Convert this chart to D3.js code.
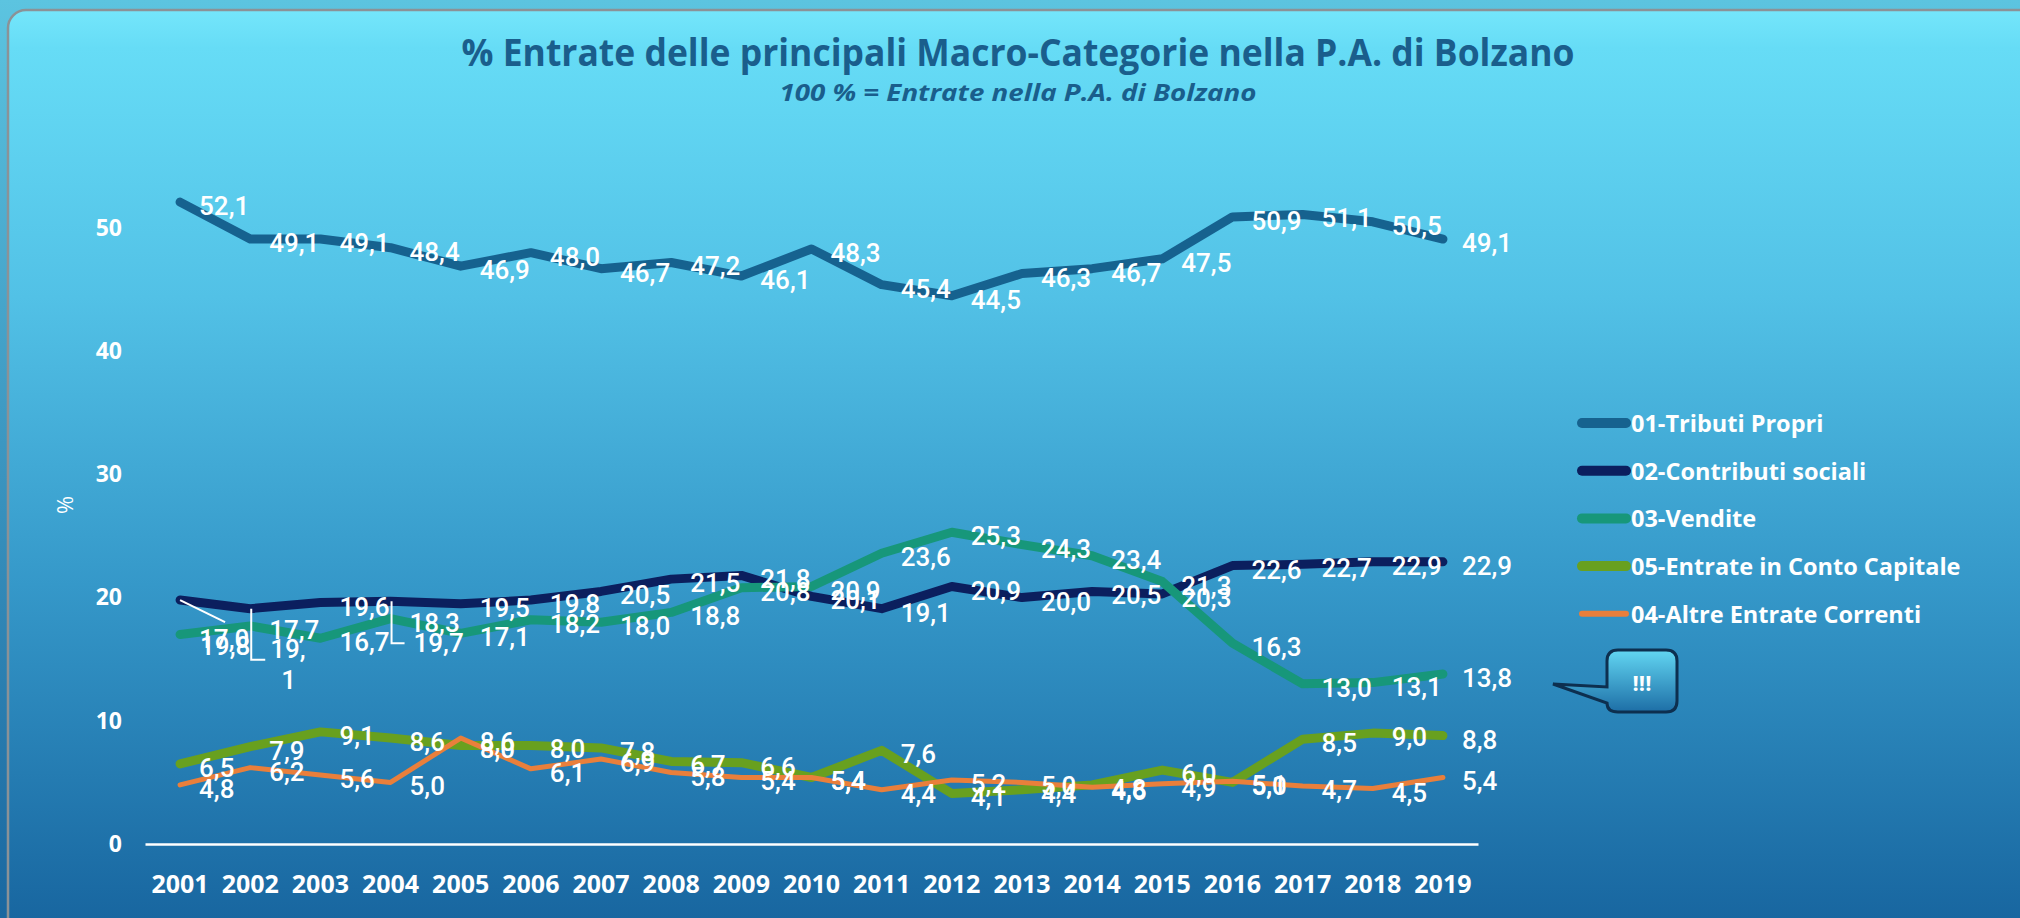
<!DOCTYPE html>
<html>
<head>
<meta charset="utf-8">
<script src="https://cdn.jsdelivr.net/npm/d3@7"></script>
<style>
  html, body { margin: 0; padding: 0; overflow: hidden; background: #3aa0cf; }
  svg { display: block; }
</style>
</head>
<body>
<svg id="chart" width="2020" height="918"></svg>
<script>
const years = ["2001","2002","2003","2004","2005","2006","2007","2008","2009","2010",
               "2011","2012","2013","2014","2015","2016","2017","2018","2019"];

const tributi    = [52.1, 49.1, 49.1, 48.4, 46.9, 48.0, 46.7, 47.2, 46.1, 48.3, 45.4, 44.5, 46.3, 46.7, 47.5, 50.9, 51.1, 50.5, 49.1];
const contributi = [19.8, 19.1, 19.6, 19.7, 19.5, 19.8, 20.5, 21.5, 21.8, 20.1, 19.1, 20.9, 20.0, 20.5, 20.3, 22.6, 22.7, 22.9, 22.9];
const vendite    = [17.0, 17.7, 16.7, 18.3, 17.1, 18.2, 18.0, 18.8, 20.8, 20.9, 23.6, 25.3, 24.3, 23.4, 21.3, 16.3, 13.0, 13.1, 13.8];
const capitale   = [6.5, 7.9, 9.1, 8.6, 8.0, 8.0, 7.8, 6.7, 6.6, 5.4, 7.6, 4.1, 4.4, 4.8, 6.0, 5.0, 8.5, 9.0, 8.8];
const altre      = [4.8, 6.2, 5.6, 5.0, 8.6, 6.1, 6.9, 5.8, 5.4, 5.4, 4.4, 5.2, 5.0, 4.6, 4.9, 5.1, 4.7, 4.5, 5.4];

const yTicks = [0, 10, 20, 30, 40, 50];

// series in drawing order (legend order as well)
const series = [
  { name: "01-Tributi Propri",             values: tributi,    color: "#16628f", width: 9 },
  { name: "02-Contributi sociali",         values: contributi, color: "#0b1f5e", width: 9 },
  { name: "03-Vendite",                    values: vendite,    color: "#17977a", width: 9 },
  { name: "05-Entrate in Conto Capitale",  values: capitale,   color: "#68a01f", width: 9 },
  { name: "04-Altre Entrate Correnti",     values: altre,      color: "#e97f3b", width: 5 }
];

// labels that were dragged by hand in the original, with a leader line
const movedLabels = {
  "02-Contributi sociali": {
    0: { dx: 20, dy: 46, leader: [[0, 0], [45, 22]] },
    1: { dx: 20, dy: 40, wrap: true, leader: [[1, 0], [1, 51], [15, 51]] },
    3: { dx: 23, dy: 42, leader: [[1, 0], [1, 42], [14, 42]] }
  }
};

const fmt = v => d3.format(".1f")(v).replace(".", ",");

const svg = d3.select("#chart");
const width = 2020, height = 918;

// background
const defs = svg.append("defs");
const outerGrad = defs.append("linearGradient").attr("id", "outer").attr("x1", 0).attr("y1", 0).attr("x2", 0).attr("y2", 1);
outerGrad.append("stop").attr("offset", 0).attr("stop-color", "#5cc4e0");
outerGrad.append("stop").attr("offset", 1).attr("stop-color", "#1a67a0");

const panelGrad = defs.append("linearGradient").attr("id", "panel").attr("x1", 0).attr("y1", 0).attr("x2", 0).attr("y2", 1);
panelGrad.append("stop").attr("offset", 0).attr("stop-color", "#74e6fb");
panelGrad.append("stop").attr("offset", 0.04).attr("stop-color", "#66dcf6");
panelGrad.append("stop").attr("offset", 0.3).attr("stop-color", "#52c1e6");
panelGrad.append("stop").attr("offset", 0.6).attr("stop-color", "#3598c9");
panelGrad.append("stop").attr("offset", 1).attr("stop-color", "#145f9a");

const calloutGrad = defs.append("linearGradient").attr("id", "callout").attr("x1", 0).attr("y1", 0).attr("x2", 0).attr("y2", 1);
calloutGrad.append("stop").attr("offset", 0).attr("stop-color", "#62d6f2");
calloutGrad.append("stop").attr("offset", 1).attr("stop-color", "#1d6ea6");

svg.append("rect").attr("width", width).attr("height", height).attr("fill", "url(#outer)");
svg.append("rect")
  .attr("x", 8).attr("y", 10)
  .attr("width", width + 40).attr("height", height + 40)
  .attr("rx", 18)
  .attr("fill", "url(#panel)")
  .attr("stroke", "#8b9297")
  .attr("stroke-width", 2.5);

// title
svg.append("text")
  .attr("x", 1018).attr("y", 66)
  .attr("text-anchor", "middle")
  .attr("textLength", 1113).attr("lengthAdjust", "spacingAndGlyphs")
  .style("font-family", "'Open Sans', sans-serif")
  .style("font-weight", 700)
  .style("font-size", "37px")
  .attr("fill", "#1a5e8c")
  .text("% Entrate delle principali Macro-Categorie nella P.A. di Bolzano");

svg.append("text")
  .attr("x", 1018).attr("y", 101)
  .attr("text-anchor", "middle")
  .attr("textLength", 477).attr("lengthAdjust", "spacingAndGlyphs")
  .style("font-family", "'Open Sans', sans-serif")
  .style("font-weight", 700)
  .style("font-style", "italic")
  .style("font-size", "23px")
  .attr("fill", "#1a5e8c")
  .text("100 % = Entrate nella P.A. di Bolzano");

// scales
const x = d3.scaleBand().domain(years).range([145, 1478]).padding(0);
const xc = d => x(d) + x.bandwidth() / 2;
const y = d3.scaleLinear().domain([0, 60]).range([844, 844 - 60 * 12.32]);

// y axis
const yAxis = svg.append("g")
  .attr("transform", "translate(132,0)")
  .call(d3.axisLeft(y).tickValues(yTicks).tickSize(0).tickPadding(10).tickFormat(d3.format("d")));
yAxis.select(".domain").remove();
yAxis.selectAll("text")
  .attr("fill", "#fff")
  .style("font-family", "'Open Sans', sans-serif")
  .style("font-weight", 700)
  .style("font-size", "23px");

svg.append("text")
  .attr("transform", "translate(64,505) rotate(-90)")
  .attr("text-anchor", "middle")
  .attr("dominant-baseline", "central")
  .attr("fill", "#fff")
  .style("font-family", "'Open Sans', sans-serif")
  .style("font-size", "22px")
  .text("%");

// x axis
const xAxis = svg.append("g")
  .attr("transform", "translate(0,844)")
  .call(d3.axisBottom(x).tickSize(0).tickSizeOuter(0).tickPadding(31));
xAxis.select(".domain").attr("stroke", "#fff").attr("stroke-width", 2.5);
xAxis.selectAll("text")
  .attr("fill", "#fff")
  .style("font-family", "'Open Sans', sans-serif")
  .style("font-weight", 700)
  .style("font-size", "25px");

// lines
const line = d3.line().x((d, i) => xc(years[i])).y(d => y(d));

svg.append("g").selectAll("path")
  .data(series)
  .enter().append("path")
  .attr("d", d => line(d.values))
  .attr("fill", "none")
  .attr("stroke", d => d.color)
  .attr("stroke-width", d => d.width)
  .attr("stroke-linejoin", "round")
  .attr("stroke-linecap", "round");

// data labels
const labels = svg.append("g")
  .style("font-family", "Roboto, sans-serif")
  .style("font-weight", 500)
  .style("font-size", "26px")
  .attr("fill", "#fff");

series.forEach(s => {
  const moved = movedLabels[s.name] || {};
  s.values.forEach((v, i) => {
    const px = xc(years[i]), py = y(v);
    const m = moved[i];
    if (m) {
      labels.append("path")
        .attr("d", d3.line()(m.leader.map(p => [px + p[0], py + p[1]])))
        .attr("fill", "none")
        .attr("stroke", "#fff")
        .attr("stroke-width", 2);
      const t = labels.append("text")
        .attr("x", px + m.dx).attr("y", py + m.dy)
        .attr("dominant-baseline", "central");
      if (m.wrap) {
        const parts = fmt(v).split(",");
        t.append("tspan").attr("x", px + m.dx).text(parts[0] + ",");
        t.append("tspan").attr("x", px + m.dx + 11).attr("dy", 31).text(parts[1]);
      } else {
        t.text(fmt(v));
      }
    } else {
      labels.append("text")
        .attr("x", px + 19).attr("y", py + 4)
        .attr("dominant-baseline", "central")
        .text(fmt(v));
    }
  });
});

// legend
const legend = svg.append("g").attr("transform", "translate(1578,423)");
const item = legend.selectAll("g")
  .data(series)
  .enter().append("g")
  .attr("transform", (d, i) => `translate(0,${i * 47.7})`);
item.append("line")
  .attr("x1", 4).attr("x2", 48)
  .attr("stroke", d => d.color)
  .attr("stroke-width", d => d.width + 1)
  .attr("stroke-linecap", "round");
item.append("text")
  .attr("x", 53)
  .attr("dominant-baseline", "central")
  .attr("fill", "#fff")
  .style("font-family", "'Open Sans', sans-serif")
  .style("font-weight", 700)
  .style("font-size", "23.5px")
  .text(d => d.name);

// "!!!" callout
svg.append("path")
  .attr("d", "M1618,650 H1666 Q1677,650 1677,661 V701 Q1677,712 1666,712 H1618 Q1607,712 1607,703 L1553,684 L1607,687 V661 Q1607,650 1618,650 Z")
  .attr("fill", "url(#callout)")
  .attr("stroke", "#0d2f4f")
  .attr("stroke-width", 3);
svg.append("text")
  .attr("x", 1642).attr("y", 682)
  .attr("text-anchor", "middle")
  .attr("dominant-baseline", "central")
  .attr("fill", "#fff")
  .style("font-family", "'Open Sans', sans-serif")
  .style("font-weight", 700)
  .style("font-size", "22px")
  .text("!!!");
</script>
</body>
</html>
